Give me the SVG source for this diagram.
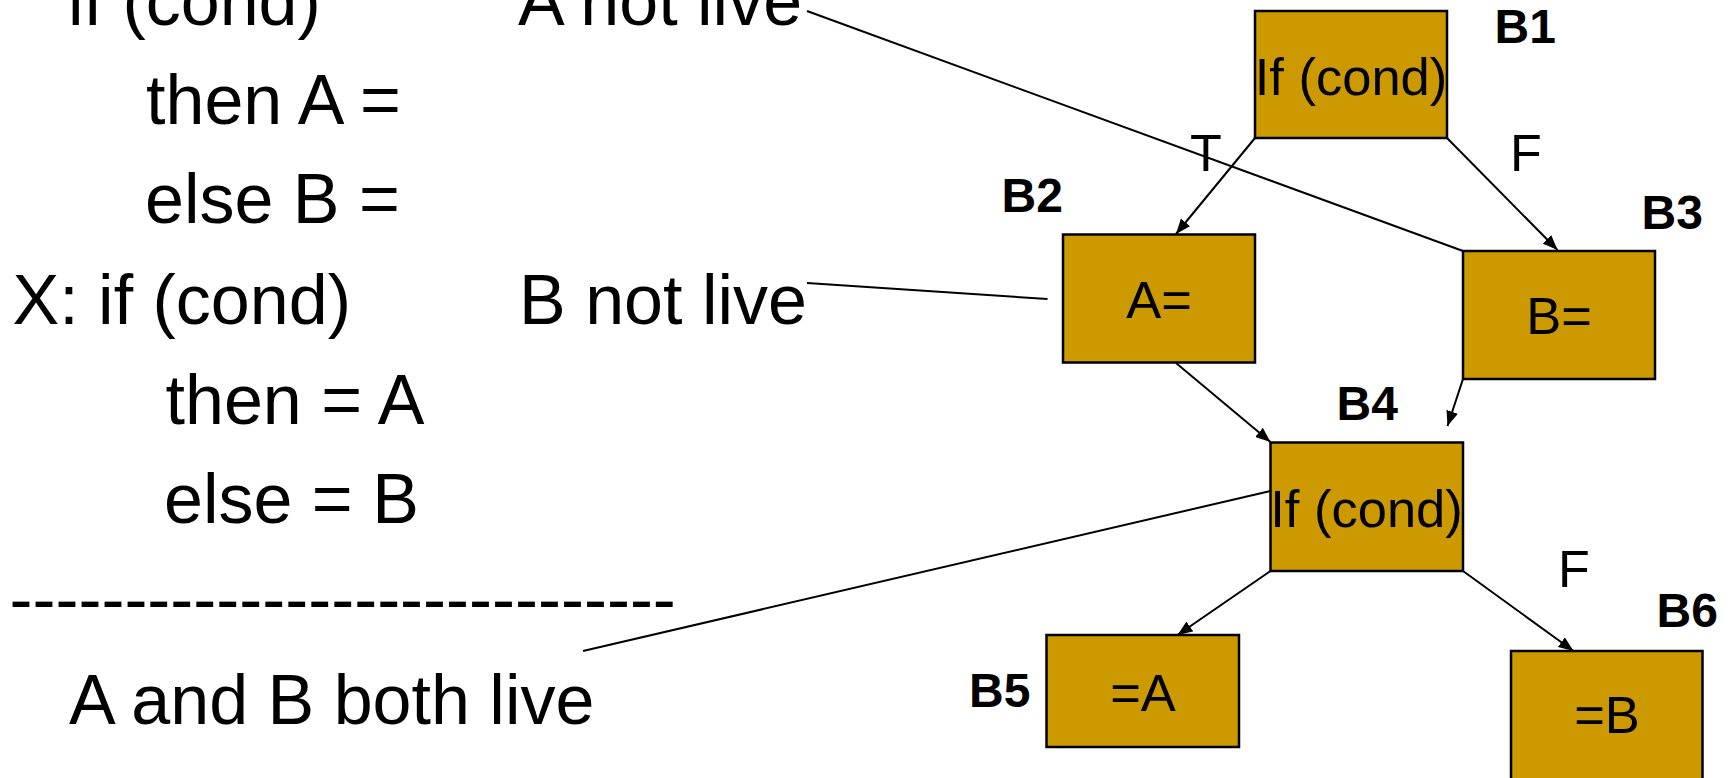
<svg xmlns="http://www.w3.org/2000/svg" width="1734" height="778" viewBox="0 0 1734 778">
  <style>
    .code { font-family: "Liberation Sans", Arial, sans-serif; font-size: 70px; fill: #000; }
    .code.rule { font-size: 69px; }
    .blk rect { fill: #CC9900; stroke: #000; stroke-width: 2.5; }
    .blk text.body { font-family: "Liberation Sans", Arial, sans-serif; font-size: 52.5px; fill: #000; text-anchor: middle; }
    .name { font-family: "Liberation Sans", Arial, sans-serif; font-size: 48px; font-weight: bold; fill: #000; }
    .edge { font-family: "Liberation Sans", Arial, sans-serif; font-size: 52px; fill: #000; }
    .conn line { stroke: #000; stroke-width: 2; fill: none; }
    .conn line.arrow { marker-end: url(#head); }
  </style>
  <defs>
    <marker id="head" markerUnits="userSpaceOnUse" markerWidth="16" markerHeight="12" refX="15" refY="6" orient="auto">
      <path d="M0,0 L15,6 L0,12 z" fill="#000"/>
    </marker>
  </defs>

  <rect width="1734" height="778" fill="#fff"/>

  <!-- source program -->
  <g id="program">
    <text class="code" x="68" y="25">if (cond)</text>
    <text class="code" x="146" y="124">then A =</text>
    <text class="code" x="145" y="223">else B =</text>
    <text class="code" x="12.5" y="324">X: if (cond)</text>
    <text class="code" x="165.5" y="424">then = A</text>
    <text class="code" x="164" y="523">else = B</text>
    <text class="code rule" x="9.5" y="623">-----------------------------</text>
    <text class="code" x="69" y="724">A and B both live</text>
  </g>

  <!-- liveness notes -->
  <g id="note-a">
    <text class="code" x="518" y="25">A not live</text>
  </g>
  <g id="note-b">
    <text class="code" x="519" y="324">B not live</text>
  </g>

  <!-- connectors -->
  <g id="connectors" class="conn">
    <line class="arrow" x1="1255" y1="138" x2="1176" y2="234"/>
    <line class="arrow" x1="1447" y1="138" x2="1557.5" y2="250"/>
    <line class="arrow" x1="1176" y1="363" x2="1270.5" y2="442"/>
    <line class="arrow" x1="1463" y1="379" x2="1447.5" y2="426"/>
    <line class="arrow" x1="1270.5" y1="571" x2="1177.5" y2="635"/>
    <line class="arrow" x1="1463" y1="571" x2="1573.5" y2="651"/>
    <!-- note pointers -->
    <line x1="807" y1="11" x2="1463" y2="251"/>
    <line x1="807" y1="283" x2="1047.5" y2="299"/>
    <line x1="583" y1="651" x2="1270.5" y2="491"/>
  </g>

  <!-- branch labels -->
  <g id="edge-labels">
    <text class="edge" x="1190" y="171">T</text>
    <text class="edge" x="1510" y="171">F</text>
    <text class="edge" x="1558" y="587">F</text>
  </g>

  <!-- basic blocks -->
  <g id="B1" class="blk">
    <rect x="1255" y="11" width="192" height="127"/>
    <text class="body" x="1351" y="95">If (cond)</text>
    <text class="name" x="1494.5" y="43">B1</text>
  </g>
  <g id="B2" class="blk">
    <rect x="1063" y="234.5" width="192" height="128"/>
    <text class="body" x="1159" y="318">A=</text>
    <text class="name" x="1001.5" y="211.5">B2</text>
  </g>
  <g id="B3" class="blk">
    <rect x="1463" y="251" width="192" height="128"/>
    <text class="body" x="1559" y="334">B=</text>
    <text class="name" x="1641.5" y="229">B3</text>
  </g>
  <g id="B4" class="blk">
    <rect x="1270.5" y="442.5" width="192.5" height="128.5"/>
    <text class="body" x="1366.5" y="527">If (cond)</text>
    <text class="name" x="1336.5" y="420">B4</text>
  </g>
  <g id="B5" class="blk">
    <rect x="1046.5" y="635" width="192.5" height="112"/>
    <text class="body" x="1143" y="711">=A</text>
    <text class="name" x="969" y="707">B5</text>
  </g>
  <g id="B6" class="blk">
    <rect x="1511" y="651" width="191.5" height="130"/>
    <text class="body" x="1607" y="733">=B</text>
    <text class="name" x="1656.5" y="627">B6</text>
  </g>
</svg>
